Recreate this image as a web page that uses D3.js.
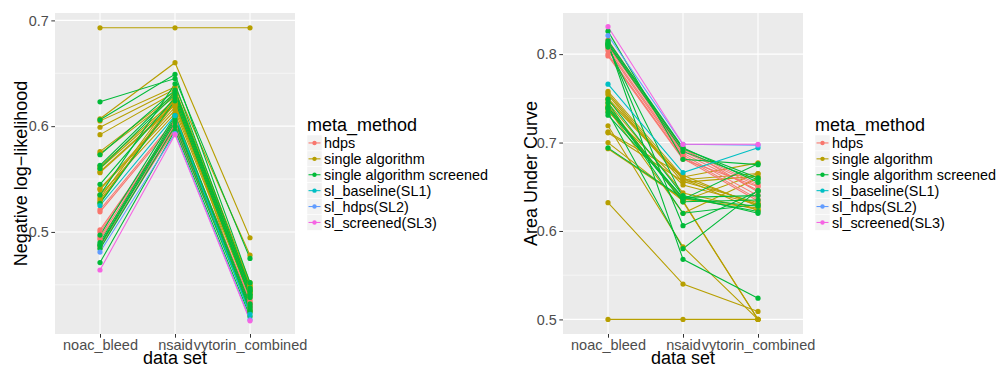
<!DOCTYPE html>
<html>
<head>
<meta charset="utf-8">
<script src="https://cdn.jsdelivr.net/npm/d3@7"></script>
<style>
  body { margin: 0; background: #fff; }
  svg { font-family: "Liberation Sans", Arial, sans-serif; }
</style>
</head>
<body>
<script>
'use strict';

// data sets on the x axis
const datasets = ["noac_bleed", "nsaid", "vytorin_combined"];

// legend groups, ggplot default hue colours
const metaMethods = ["hdps", "single algorithm", "single algorithm screened",
  "sl_baseline(SL1)", "sl_hdps(SL2)", "sl_screened(SL3)"];
const methodColors = ["#F8766D", "#B79F00", "#00BA38", "#00BFC4", "#619CFF", "#F564E3"];

// meta_method of every line (one line per method)
const lineMethod = [].concat(
  Array(8).fill("hdps"),
  Array(17).fill("single algorithm"),
  Array(14).fill("single algorithm screened"),
  ["sl_baseline(SL1)", "sl_hdps(SL2)", "sl_screened(SL3)"]
);

// negative log-likelihood, one value per line and data set
const nllNoac = [0.521, 0.519, 0.502, 0.500, 0.495, 0.493, 0.487, 0.485,
  0.693, 0.607, 0.605, 0.599, 0.592, 0.576, 0.574, 0.562, 0.560, 0.557, 0.556, 0.541, 0.540, 0.535, 0.532, 0.530, 0.528,
  0.623, 0.606, 0.573, 0.563, 0.560, 0.545, 0.535, 0.527, 0.497, 0.490, 0.488, 0.487, 0.484, 0.471,
  0.525, 0.481, 0.464];
const nllNsaid = [0.606, 0.604, 0.602, 0.600, 0.603, 0.598, 0.597, 0.601,
  0.693, 0.660, 0.637, 0.635, 0.632, 0.630, 0.628, 0.625, 0.623, 0.621, 0.620, 0.618, 0.615, 0.612, 0.628, 0.622, 0.626,
  0.645, 0.649, 0.634, 0.632, 0.630, 0.627, 0.640, 0.624, 0.610, 0.608, 0.606, 0.604, 0.600, 0.596,
  0.610, 0.593, 0.592];
const nllVytorin = [0.436, 0.434, 0.432, 0.430, 0.428, 0.431, 0.429, 0.433,
  0.693, 0.4945, 0.478, 0.452, 0.450, 0.448, 0.447, 0.445, 0.444, 0.443, 0.442, 0.440, 0.438, 0.426, 0.425, 0.446, 0.449,
  0.475, 0.452, 0.445, 0.444, 0.441, 0.440, 0.447, 0.438, 0.432, 0.430, 0.428, 0.426, 0.424, 0.420,
  0.422, 0.417, 0.416];

// area under curve, one value per line and data set
const aucNoac = [0.816, 0.812, 0.810, 0.806, 0.804, 0.800, 0.798, 0.808,
  0.500, 0.632, 0.758, 0.756, 0.754, 0.750, 0.745, 0.742, 0.740, 0.738, 0.719, 0.712, 0.711, 0.700, 0.693, 0.735, 0.748,
  0.826, 0.815, 0.812, 0.810, 0.808, 0.749, 0.734, 0.731, 0.745, 0.694, 0.740, 0.813, 0.811, 0.738,
  0.766, 0.821, 0.831];
const aucNsaid = [0.692, 0.690, 0.688, 0.686, 0.684, 0.682, 0.681, 0.694,
  0.500, 0.540, 0.661, 0.658, 0.655, 0.660, 0.643, 0.634, 0.633, 0.620, 0.582, 0.663, 0.656, 0.634, 0.636, 0.652, 0.659,
  0.681, 0.694, 0.568, 0.606, 0.638, 0.640, 0.580, 0.638, 0.620, 0.637, 0.636, 0.693, 0.690, 0.633,
  0.666, 0.698, 0.698];
const aucVytorin = [0.653, 0.651, 0.646, 0.640, 0.636, 0.634, 0.650, 0.644,
  0.500, 0.509, 0.677, 0.665, 0.662, 0.630, 0.624, 0.500, 0.500, 0.660, 0.500, 0.628, 0.632, 0.665, 0.626, 0.630, 0.623,
  0.675, 0.655, 0.524, 0.645, 0.622, 0.620, 0.646, 0.640, 0.630, 0.628, 0.676, 0.660, 0.658, 0.635,
  0.694, 0.697, 0.698];

// axis ticks
const nllTicks = [0.5, 0.6, 0.7];
const nllMinor = [0.45, 0.55, 0.65];
const aucTicks = [0.5, 0.6, 0.7, 0.8];
const aucMinor = [0.55, 0.65, 0.75];

const W = 998, H = 366;
const color = d3.scaleOrdinal().domain(metaMethods).range(methodColors);
// order in which the groups are painted (later = on top)
const paintOrder = ["single algorithm", "hdps", "single algorithm screened",
  "sl_baseline(SL1)", "sl_hdps(SL2)", "sl_screened(SL3)"];

const svg = d3.select("body").append("svg")
    .attr("width", W)
    .attr("height", H);

const drawPanel = (opt) => {
  const x = d3.scalePoint().domain(datasets).range([opt.left, opt.right]).padding(0.6);
  const y = d3.scaleLinear().domain(opt.domain).range([opt.bottom, opt.top]);

  const g = svg.append("g");

  // panel background
  g.append("rect")
      .attr("x", opt.left).attr("y", opt.top)
      .attr("width", opt.right - opt.left)
      .attr("height", opt.bottom - opt.top)
      .style("fill", "#EBEBEB");

  // grid
  g.selectAll(".minor").data(opt.minor).enter().append("line")
      .attr("x1", opt.left).attr("x2", opt.right)
      .attr("y1", d => y(d)).attr("y2", d => y(d))
      .style("stroke", "#fff").style("stroke-width", 0.55);
  g.selectAll(".major").data(opt.ticks).enter().append("line")
      .attr("x1", opt.left).attr("x2", opt.right)
      .attr("y1", d => y(d)).attr("y2", d => y(d))
      .style("stroke", "#fff").style("stroke-width", 1.1);
  g.selectAll(".vmajor").data(datasets).enter().append("line")
      .attr("x1", d => x(d)).attr("x2", d => x(d))
      .attr("y1", opt.top).attr("y2", opt.bottom)
      .style("stroke", "#fff").style("stroke-width", 1.1);

  // lines per method
  const rows = lineMethod.map((m, i) => ({
    method: m,
    values: datasets.map((d, j) => ({ set: d, v: opt.values[j][i] }))
  }));
  rows.sort((a, b) => paintOrder.indexOf(a.method) - paintOrder.indexOf(b.method));

  const line = d3.line()
      .x(d => x(d.set))
      .y(d => y(d.v));

  g.selectAll(".ln").data(rows).enter().append("path")
      .attr("d", d => line(d.values))
      .style("fill", "none")
      .style("stroke", d => color(d.method))
      .style("stroke-width", 1.07);

  rows.forEach(r => {
    g.selectAll(null).data(r.values).enter().append("circle")
        .attr("cx", d => x(d.set))
        .attr("cy", d => y(d.v))
        .attr("r", 2.6)
        .style("fill", color(r.method));
  });

  // axes
  const yAxis = d3.axisLeft(y).tickValues(opt.ticks).tickSize(3.7).tickPadding(2.5).tickFormat(d3.format(".1f"));
  const ya = g.append("g").attr("transform", "translate(" + opt.left + ",0)").call(yAxis);
  ya.select(".domain").remove();
  ya.selectAll(".tick line").style("stroke", "#333");
  ya.selectAll(".tick text").style("fill", "#4D4D4D").style("font-size", "14.4px");

  const xAxis = d3.axisBottom(x).tickSize(3.7).tickPadding(2.5);
  const xa = g.append("g").attr("transform", "translate(0," + opt.bottom + ")").call(xAxis);
  xa.select(".domain").remove();
  xa.selectAll(".tick line").style("stroke", "#333");
  xa.selectAll(".tick text").style("fill", "#4D4D4D").style("font-size", "14.5px");

  // axis titles
  g.append("text")
      .attr("x", (opt.left + opt.right) / 2)
      .attr("y", 363.5)
      .attr("text-anchor", "middle")
      .style("font-size", "18px")
      .text("data set");
  g.append("text")
      .attr("transform", "translate(" + opt.titleX + "," + ((opt.top + opt.bottom) / 2) + ") rotate(-90)")
      .attr("text-anchor", "middle")
      .style("font-size", "18px")
      .text(opt.yTitle);

  // legend
  const lg = g.append("g").attr("transform", "translate(" + opt.legendX + ",0)");
  lg.append("text")
      .attr("x", 0).attr("y", 131)
      .style("font-size", "18px")
      .text("meta_method");
  const key = lg.selectAll(".key").data(metaMethods).enter().append("g")
      .attr("transform", (d, i) => "translate(0," + (135 + i * 15.9) + ")");
  key.append("rect")
      .attr("width", 15).attr("height", 15.9)
      .style("fill", "#F2F2F2").style("stroke", "#fff").style("stroke-width", 0.5);
  key.append("line")
      .attr("x1", 1.5).attr("x2", 13.5)
      .attr("y1", 7.95).attr("y2", 7.95)
      .style("stroke", d => color(d)).style("stroke-width", 1.07);
  key.append("circle")
      .attr("cx", 7.5).attr("cy", 7.95).attr("r", 2.2)
      .style("fill", d => color(d));
  key.append("text")
      .attr("x", 17).attr("y", 13)
      .style("font-size", "14.4px")
      .text(d => d);
};

drawPanel({
  left: 55, right: 295, top: 13, bottom: 334,
  domain: [0.4035, 0.707],
  ticks: nllTicks, minor: nllMinor,
  values: [nllNoac, nllNsaid, nllVytorin],
  yTitle: "Negative log\u2212likelihood", titleX: 27,
  legendX: 307
});

drawPanel({
  left: 563, right: 803, top: 13, bottom: 334,
  domain: [0.4835, 0.8465],
  ticks: aucTicks, minor: aucMinor,
  values: [aucNoac, aucNsaid, aucVytorin],
  yTitle: "Area Under Curve", titleX: 537,
  legendX: 815
});
</script>
</body>
</html>
